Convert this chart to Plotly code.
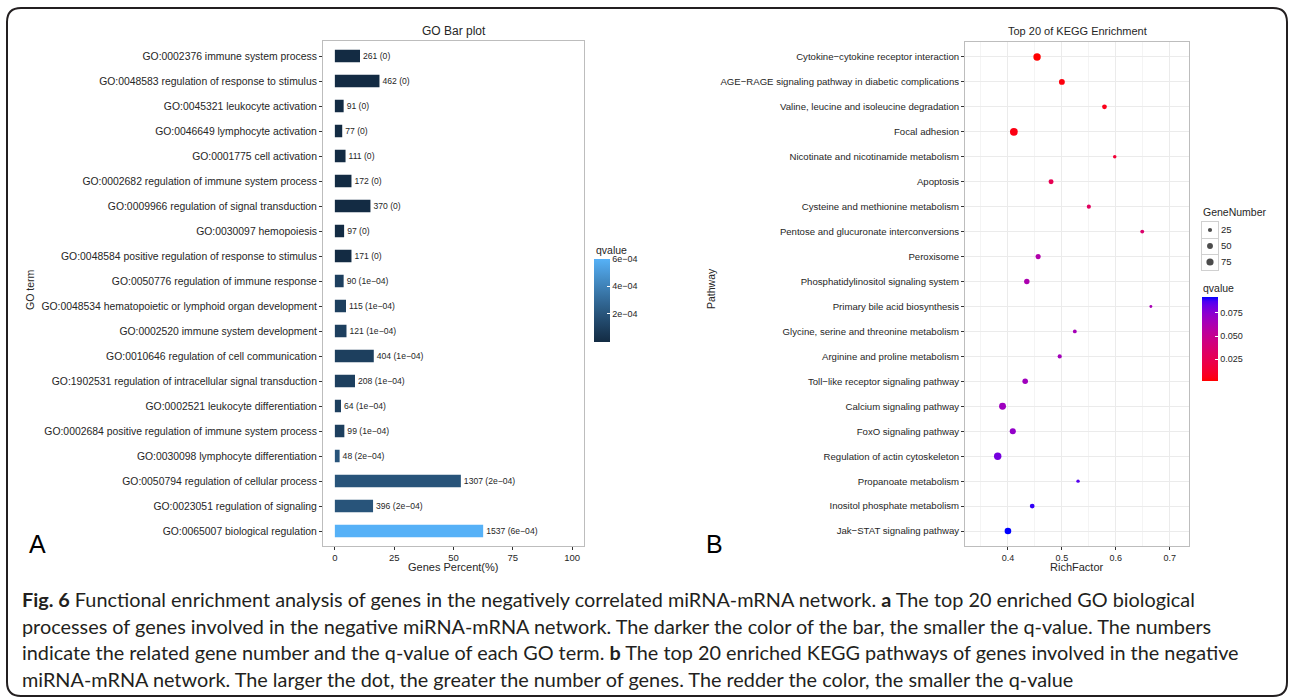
import math
import plotly.graph_objects as go

# ---------------- data: GO bar plot ----------------
go_terms = [
    "GO:0002376 immune system process",
    "GO:0048583 regulation of response to stimulus",
    "GO:0045321 leukocyte activation",
    "GO:0046649 lymphocyte activation",
    "GO:0001775 cell activation",
    "GO:0002682 regulation of immune system process",
    "GO:0009966 regulation of signal transduction",
    "GO:0030097 hemopoiesis",
    "GO:0048584 positive regulation of response to stimulus",
    "GO:0050776 regulation of immune response",
    "GO:0048534 hematopoietic or lymphoid organ development",
    "GO:0002520 immune system development",
    "GO:0010646 regulation of cell communication",
    "GO:1902531 regulation of intracellular signal transduction",
    "GO:0002521 leukocyte differentiation",
    "GO:0002684 positive regulation of immune system process",
    "GO:0030098 lymphocyte differentiation",
    "GO:0050794 regulation of cellular process",
    "GO:0023051 regulation of signaling",
    "GO:0065007 biological regulation",
]
go_percent = [10.6, 18.8, 3.7, 3.1, 4.5, 7.0, 15.0, 3.9, 7.0, 3.7,
              4.7, 4.9, 16.4, 8.5, 2.6, 4.0, 2.0, 53.1, 16.1, 62.5]
go_count = [261, 462, 91, 77, 111, 172, 370, 97, 171, 90,
            115, 121, 404, 208, 64, 99, 48, 1307, 396, 1537]
go_qvalue = [0, 0, 0, 0, 0, 0, 0, 0, 0, 1e-4,
             1e-4, 1e-4, 1e-4, 1e-4, 1e-4, 1e-4, 2e-4, 2e-4, 2e-4, 6e-4]
go_qlabel = ["0", "0", "0", "0", "0", "0", "0", "0", "0", "1e\u221204",
             "1e\u221204", "1e\u221204", "1e\u221204", "1e\u221204", "1e\u221204", "1e\u221204",
             "2e\u221204", "2e\u221204", "2e\u221204", "6e\u221204"]
go_x_ticks = [0, 25, 50, 75, 100]
go_cbar_ticks = [2e-4, 4e-4, 6e-4]
go_cbar_labels = ["2e\u221204", "4e\u221204", "6e\u221204"]

# ---------------- data: KEGG dot plot ----------------
kegg_pathways = [
    "Cytokine\u2212cytokine receptor interaction",
    "AGE\u2212RAGE signaling pathway in diabetic complications",
    "Valine, leucine and isoleucine degradation",
    "Focal adhesion",
    "Nicotinate and nicotinamide metabolism",
    "Apoptosis",
    "Cysteine and methionine metabolism",
    "Pentose and glucuronate interconversions",
    "Peroxisome",
    "Phosphatidylinositol signaling system",
    "Primary bile acid biosynthesis",
    "Glycine, serine and threonine metabolism",
    "Arginine and proline metabolism",
    "Toll\u2212like receptor signaling pathway",
    "Calcium signaling pathway",
    "FoxO signaling pathway",
    "Regulation of actin cytoskeleton",
    "Propanoate metabolism",
    "Inositol phosphate metabolism",
    "Jak\u2212STAT signaling pathway",
]
kegg_richfactor = [0.454, 0.500, 0.579, 0.411, 0.598, 0.480, 0.550, 0.649, 0.456, 0.435,
                   0.665, 0.524, 0.496, 0.432, 0.390, 0.409, 0.381, 0.530, 0.445, 0.400]
kegg_genenumber = [80, 50, 33, 88, 18, 36, 25, 22, 38, 43,
                   12, 21, 25, 45, 70, 54, 80, 17, 33, 64]
kegg_qvalue = [0.0017, 0.004, 0.006, 0.005, 0.015, 0.025, 0.030, 0.035, 0.060, 0.062,
               0.064, 0.065, 0.066, 0.067, 0.068, 0.072, 0.080, 0.086, 0.089, 0.092]
kegg_x_ticks = [0.4, 0.5, 0.6, 0.7]
kegg_x_labels = ["0.4", "0.5", "0.6", "0.7"]
kegg_cbar_ticks = [0.025, 0.050, 0.075]
kegg_cbar_labels = ["0.025", "0.050", "0.075"]
size_legend = [25, 50, 75]
size_legend_labels = ["25", "50", "75"]

caption_lines = [
    "<b>Fig. 6</b> Functional enrichment analysis of genes in the negatively correlated miRNA-mRNA network. <b>a</b> The top 20 enriched GO biological",
    "processes of genes involved in the negative miRNA-mRNA network. The darker the color of the bar, the smaller the q-value. The numbers",
    "indicate the related gene number and the q-value of each GO term. <b>b</b> The top 20 enriched KEGG pathways of genes involved in the negative",
    "miRNA-mRNA network. The larger the dot, the greater the number of genes. The redder the color, the smaller the q-value",
]

# ---------------- helpers (style only) ----------------
W, H = 1292, 700


def px(x):
    return x / W


def py(y):
    return 1 - y / H


def _lin(c):
    return c / 12.92 if c <= 0.04045 else ((c + 0.055) / 1.055) ** 2.4


def _gam(c):
    c = max(0.0, min(1.0, c))
    return 12.92 * c if c <= 0.0031308 else 1.055 * c ** (1 / 2.4) - 0.055


def _f(t):
    d = 6 / 29
    return t ** (1 / 3) if t > d ** 3 else t / (3 * d * d) + 4 / 29


def _finv(t):
    d = 6 / 29
    return t ** 3 if t > d else 3 * d * d * (t - 4 / 29)


WP = (0.95047, 1.0, 1.08883)


def hex_to_lab(h):
    h = h.lstrip("#")
    r, g, b = [_lin(int(h[i:i + 2], 16) / 255) for i in (0, 2, 4)]
    X = 0.4124 * r + 0.3576 * g + 0.1805 * b
    Y = 0.2126 * r + 0.7152 * g + 0.0722 * b
    Z = 0.0193 * r + 0.1192 * g + 0.9505 * b
    fx, fy, fz = _f(X / WP[0]), _f(Y / WP[1]), _f(Z / WP[2])
    return (116 * fy - 16, 500 * (fx - fy), 200 * (fy - fz))


def lab_to_rgb(L, a, b):
    fy = (L + 16) / 116
    fx = fy + a / 500
    fz = fy - b / 200
    X, Y, Z = WP[0] * _finv(fx), WP[1] * _finv(fy), WP[2] * _finv(fz)
    r = 3.2406 * X - 1.5372 * Y - 0.4986 * Z
    g = -0.9689 * X + 1.8758 * Y + 0.0415 * Z
    bb = 0.0557 * X - 0.2040 * Y + 1.0570 * Z
    return "rgb(%d,%d,%d)" % tuple(round(_gam(c) * 255) for c in (r, g, bb))


def lab_scale(lo, hi, n=21):
    a, b = hex_to_lab(lo), hex_to_lab(hi)
    out = []
    for i in range(n):
        t = i / (n - 1)
        out.append([t, lab_to_rgb(*[a[k] + (b[k] - a[k]) * t for k in range(3)])])
    return out


TXT = "#262626"
FONT = "Liberation Sans, Arial, sans-serif"

fig = go.Figure()

# GO bars
fig.add_trace(go.Bar(
    x=go_percent, y=go_terms, orientation="h", width=0.5,
    marker=dict(color=go_qvalue, coloraxis="coloraxis", line=dict(width=0)),
    text=[f"{c} ({q})" for c, q in zip(go_count, go_qlabel)],
    textposition="outside", constraintext="none", cliponaxis=False,
    textfont=dict(size=8.6, color=TXT, family=FONT),
    xaxis="x", yaxis="y", showlegend=False, hoverinfo="skip",
))

# KEGG dots
SIZEREF = 2.9
fig.add_trace(go.Scatter(
    x=kegg_richfactor, y=kegg_pathways, mode="markers",
    marker=dict(size=kegg_genenumber, sizemode="area", sizeref=SIZEREF, sizemin=1,
                color=kegg_qvalue, coloraxis="coloraxis2", line=dict(width=0), opacity=1),
    xaxis="x2", yaxis="y2", showlegend=False, hoverinfo="skip",
))

# size legend (GeneNumber) drawn as a tiny key panel
fig.add_trace(go.Scatter(
    x=[0] * len(size_legend), y=size_legend_labels, mode="markers",
    marker=dict(size=size_legend, sizemode="area", sizeref=SIZEREF, color="black", line=dict(width=0)),
    xaxis="x3", yaxis="y3", showlegend=False, hoverinfo="skip", cliponaxis=False,
))

axis_common = dict(
    showline=True, mirror=True, linecolor="#bdbdbd", linewidth=1,
    ticks="outside", ticklen=3, tickcolor="#333", tickwidth=1,
    zeroline=False,
)

fig.update_layout(
    width=W, height=H, margin=dict(l=0, r=0, t=0, b=0),
    paper_bgcolor="white", plot_bgcolor="white",
    font=dict(family=FONT, color=TXT),
    showlegend=False,
    xaxis=dict(domain=[px(323), px(584)], anchor="y", range=[-5, 105],
               tickvals=go_x_ticks, showgrid=False,
               tickfont=dict(size=9.5, color=TXT), **axis_common),
    yaxis=dict(domain=[py(546), py(41)], anchor="x", type="category",
               categoryorder="array", categoryarray=go_terms, range=[19.6, -0.6],
               showgrid=False, tickfont=dict(size=10.4, color=TXT), **axis_common),
    xaxis2=dict(domain=[px(965), px(1189)], anchor="y2", range=[0.3204, 0.7357],
                tickvals=kegg_x_ticks, ticktext=kegg_x_labels,
                showgrid=True, gridcolor="#ebebeb", gridwidth=1,
                minor=dict(tick0=0.35, dtick=0.1, showgrid=True, gridcolor="#f4f4f4", gridwidth=1),
                tickfont=dict(size=9, color=TXT), **axis_common),
    yaxis2=dict(domain=[py(546), py(42)], anchor="x2", type="category",
                categoryorder="array", categoryarray=kegg_pathways, range=[19.6, -0.6],
                showgrid=True, gridcolor="#ebebeb", gridwidth=1,
                tickfont=dict(size=9.6, color=TXT), **axis_common),
    xaxis3=dict(domain=[px(1202), px(1218)], anchor="y3", range=[-0.5, 0.5],
                showline=True, mirror=True, linecolor="#d0d0d0", linewidth=1,
                showgrid=False, zeroline=False, showticklabels=False, ticks="",
                fixedrange=True),
    yaxis3=dict(domain=[py(270), py(222)], anchor="x3", type="category",
                categoryorder="array", categoryarray=size_legend_labels,
                range=[2.5, -0.5], side="right", tickson="boundaries",
                showline=True, mirror=True, linecolor="#d0d0d0", linewidth=1,
                showgrid=True, gridcolor="#d0d0d0", gridwidth=1, ticks="",
                zeroline=False, tickfont=dict(size=9.5, color=TXT), fixedrange=True),
    coloraxis=dict(
        colorscale=lab_scale("#132B43", "#56B1F7"), cmin=0, cmax=6e-4,
        colorbar=dict(x=px(594), xanchor="left", y=py(300), yanchor="middle",
                      len=83, lenmode="pixels", thickness=16, thicknessmode="pixels",
                      xpad=0, ypad=0, outlinewidth=0,
                      tickvals=go_cbar_ticks, ticktext=go_cbar_labels,
                      ticks="inside", ticklen=3, tickcolor="white",
                      tickfont=dict(size=9, color=TXT)),
    ),
    coloraxis2=dict(
        colorscale=lab_scale("#FF0000", "#0000FF"), cmin=0.0017, cmax=0.092,
        colorbar=dict(x=px(1202), xanchor="left", y=py(339), yanchor="middle",
                      len=84, lenmode="pixels", thickness=16, thicknessmode="pixels",
                      xpad=0, ypad=0, outlinewidth=0,
                      tickvals=kegg_cbar_ticks, ticktext=kegg_cbar_labels,
                      ticks="inside", ticklen=3, tickcolor="white",
                      tickfont=dict(size=9, color=TXT)),
    ),
)

ann = []


def add_text(text, x, y, size, xanchor="center", yanchor="middle", angle=0, color=TXT, family=FONT):
    ann.append(dict(text=text, x=px(x), y=py(y), xref="paper", yref="paper",
                    xanchor=xanchor, yanchor=yanchor, showarrow=False, textangle=angle,
                    font=dict(size=size, color=color, family=family)))


add_text("GO Bar plot", 454, 31, 12)
add_text("Top 20 of KEGG Enrichment", 1077, 31, 11)
add_text("GO term", 30, 290, 10.5, angle=-90)
add_text("Pathway", 711, 289, 10.5, angle=-90)
add_text("Genes Percent(%)", 453, 567, 11)
add_text("RichFactor", 1077, 567, 11)
add_text("qvalue", 594, 250, 10.5, xanchor="left")
add_text("qvalue", 1201, 288, 10.5, xanchor="left")
add_text("GeneNumber", 1201, 212, 10.5, xanchor="left")
add_text("A", 37, 544, 25, color="#000")
add_text("B", 714, 544, 25, color="#000")

for i, line in enumerate(caption_lines):
    add_text(line, 20, 599 + i * 26.5, 19.85, xanchor="left", color="#231F20",
             family="Lato, Open Sans, sans-serif")

fig.update_layout(annotations=ann)

# rounded border around the whole figure panel
x0, y0, x1, y1, r = 7, 8, 1287, 696, 14
path = (f"M {px(x0 + r)},{py(y0)} L {px(x1 - r)},{py(y0)} "
        f"Q {px(x1)},{py(y0)} {px(x1)},{py(y0 + r)} L {px(x1)},{py(y1 - r)} "
        f"Q {px(x1)},{py(y1)} {px(x1 - r)},{py(y1)} L {px(x0 + r)},{py(y1)} "
        f"Q {px(x0)},{py(y1)} {px(x0)},{py(y1 - r)} L {px(x0)},{py(y0 + r)} "
        f"Q {px(x0)},{py(y0)} {px(x0 + r)},{py(y0)} Z")
fig.add_shape(type="path", path=path, xref="paper", yref="paper",
              line=dict(color="#231F20", width=2), fillcolor="rgba(0,0,0,0)", layer="above")

fig.write_html("out.html")
